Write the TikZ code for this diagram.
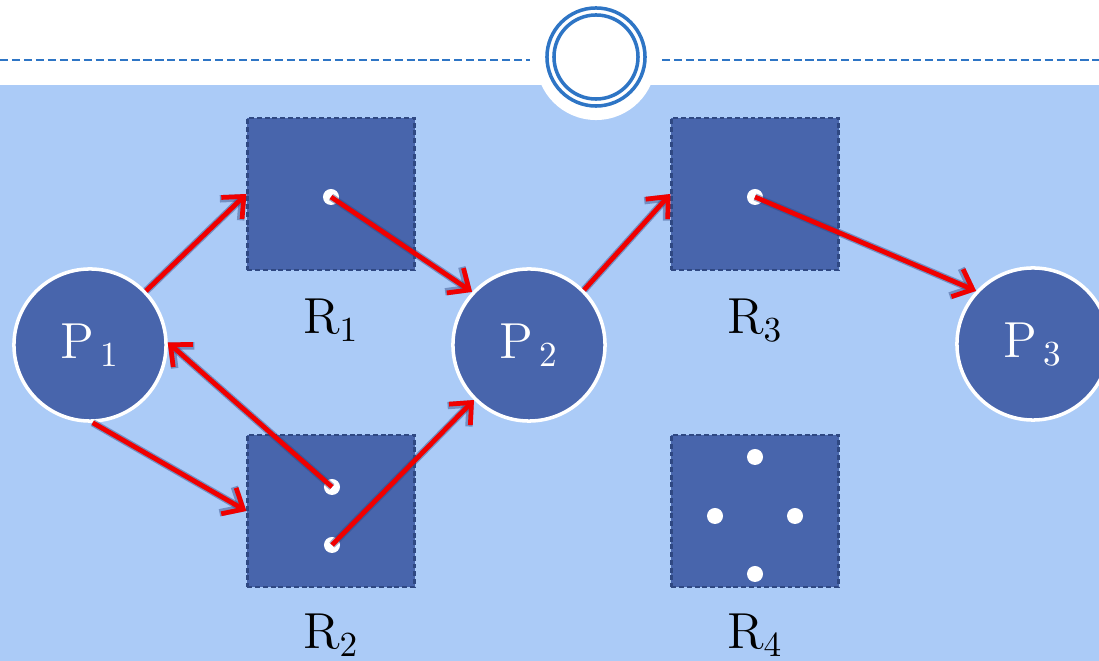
\documentclass[tikz,border=0pt]{standalone}
\usetikzlibrary{arrows.meta}

\definecolor{bgblue}{RGB}{171,203,247}
\definecolor{nodeblue}{RGB}{72,101,172}
\definecolor{edgeblue}{RGB}{47,72,130}
\definecolor{lineblue}{RGB}{46,117,197}
\definecolor{arrred}{RGB}{240,0,0}

\tikzset{
  proc/.style={circle, fill=nodeblue, draw=white, line width=1pt,
    minimum size=1.52cm, inner sep=0pt, text=white,
    font=\fontsize{14.5}{17}\selectfont},
  res/.style={rectangle, fill=nodeblue, draw=edgeblue, line width=0.6pt,
    dash pattern=on 1.4pt off 0.8pt, minimum width=1.67cm, minimum height=1.52cm},
  inst/.style={circle, fill=white, minimum size=0.16cm, inner sep=0pt},
  reslabel/.style={font=\fontsize{14.5}{17}\selectfont},
  arr/.style={-{Straight Barb[length=4.8pt,width=8.5pt]}, arrred, line width=1.35pt,
    preaction={draw=edgeblue, opacity=0.45, line width=2.1pt}}
}

\begin{document}
\begin{tikzpicture}[x=0.01cm, y=-0.01cm]
        \useasboundingbox (0,0) rectangle (1099,661);

        % Fondo y cabecera
        \fill[white] (0,0) rectangle (1099,661);
        \fill[bgblue] (0,85) rectangle (1099,661);
        \fill[white] (596,60) circle[radius=0.6cm];
        \draw[lineblue, line width=0.75pt, dash pattern=on 2.3pt off 1.1pt] (0,60) -- (530,60);
        \draw[lineblue, line width=0.75pt, dash pattern=on 2.3pt off 1.1pt] (662,60) -- (1099,60);
        \draw[lineblue, line width=1pt] (596,57) circle[radius=0.49cm];
        \draw[lineblue, line width=1pt] (596,57) circle[radius=0.42cm];

        % Procesos
        \node[proc] (p1) at (90,345) {$\mathrm{P}_{\,1}$};
        \node[proc] (p2) at (529,345) {$\mathrm{P}_{\,2}$};
        \begin{scope}
          \clip (0,0) rectangle (1099,661);
          \node[proc] (p3) at (1033,344) {$\mathrm{P}_{\,3}$};
        \end{scope}

        % Recursos
        \node[res] (r1) at (331,194) {};
        \node[res] (r2) at (331,511) {};
        \node[res] (r3) at (755,194) {};
        \node[res] (r4) at (755,511) {};
        \node[reslabel] (l1) at (331,320) {$\mathrm{R}_{1}$};
        \node[reslabel] (l2) at (331,635) {$\mathrm{R}_{2}$};
        \node[reslabel] (l3) at (755,320) {$\mathrm{R}_{3}$};
        \node[reslabel] (l4) at (755,635) {$\mathrm{R}_{4}$};

        % Instancias
        \node[inst] (r1a) at (331,197) {};
        \node[inst] (r2a) at (332,487) {};
        \node[inst] (r2b) at (332,545) {};
        \node[inst] (r3a) at (755,197) {};
        \node[inst] (r4a) at (755,457) {};
        \node[inst] (r4b) at (715,516) {};
        \node[inst] (r4c) at (795,516) {};
        \node[inst] (r4d) at (755,574) {};

        % Solicitudes y asignaciones
        \draw[arr] (p1.44) -- (r1.west);
        \draw[arr] (p1.-88) -- (r2.west);
        \draw[arr] (r1a.center) -- (p2.137);
        \draw[arr] (r2a.center) -- (p1.2);
        \draw[arr] (r2b.center) -- (p2.225);
        \draw[arr] (p2.45) -- (r3.west);
        \draw[arr] (r3a.center) -- (p3.137);
    \end{tikzpicture}
\end{document}
